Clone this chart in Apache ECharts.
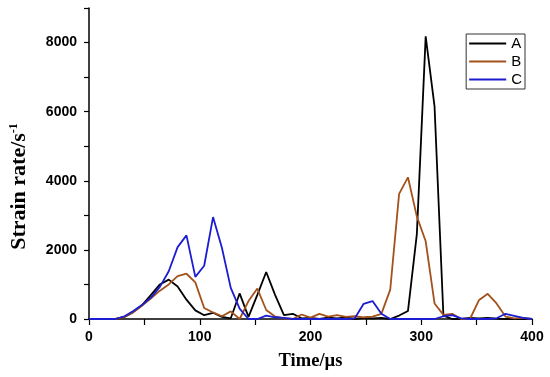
<!DOCTYPE html>
<html>
<head>
<meta charset="utf-8">
<script src="https://cdn.jsdelivr.net/npm/echarts@6/dist/echarts.min.js"></script>
<style>
html,body{margin:0;padding:0;background:#fff;}
#chart{width:550px;height:377px;}
</style>
</head>
<body>
<div id="chart"></div>
<script>
// Time axis (µs)
var times = [0,8,16,24,32,40,48,56,64,72,80,88,96,104,112,120,128,136,144,152,160,168,176,184,192,200,208,216,224,232,240,248,256,264,272,280,288,296,304,312,320,328,336,344,352,360,368,376,384,392,400];
// Strain rate (1/s)
var seriesA = [0,0,0,0,60,200,400,700,1000,1140,940,560,250,110,180,60,20,740,60,700,1360,700,110,150,20,30,0,40,20,50,0,30,20,30,0,100,230,2450,8180,6150,100,0,0,30,20,30,10,0,0,0,0];
var seriesB = [0,0,0,0,60,200,390,600,820,1000,1240,1310,1060,320,190,80,220,0,520,880,260,70,20,0,130,40,150,70,110,60,80,50,70,150,850,3620,4100,2970,2250,450,120,150,0,0,540,730,450,70,20,30,0];
var seriesC = [0,0,0,0,80,230,410,620,930,1380,2080,2420,1220,1540,2950,2060,900,300,0,0,100,50,30,0,0,0,0,0,0,0,20,440,520,150,0,0,0,0,0,0,80,110,20,0,0,0,20,150,90,30,0];
var xTicks = [0,100,200,300,400];
var yTicks = [0,2000,4000,6000,8000];

function pairs(vals){ return times.map(function(t,i){ return [t, vals[i]]; }); }

var chart = echarts.init(document.getElementById('chart'), null, {renderer:'canvas'});
var labelFont = {fontFamily:'Arial, "Liberation Sans", sans-serif', fontWeight:'bold', fontSize:14, color:'#000'};
var titleFont = '"Times New Roman", "Liberation Serif", serif';
chart.setOption({
  animation:false,
  backgroundColor:'#fff',
  grid:{left:88, right:18, top:8, bottom:58, containLabel:false},
  legend:{
    data:['A','B','C'], orient:'vertical', right:25, top:34,
    icon:'rect', itemWidth:37, itemHeight:2, itemGap:3,
    padding:[2,3,2,3], borderColor:'#333', borderWidth:1, borderRadius:0,
    textStyle:{fontFamily:'Arial, "Liberation Sans", sans-serif', fontSize:15, color:'#000'}
  },
  xAxis:{
    type:'value', min:0, max:400, interval:100,
    name:'Time/µs', nameLocation:'middle', nameGap:33,
    nameTextStyle:{fontFamily:titleFont, fontWeight:'bold', fontSize:18.5, color:'#000'},
    axisLine:{lineStyle:{color:'#000', width:1.5}},
    axisTick:{inside:false, length:6, lineStyle:{color:'#000', width:1.2}},
    minorTick:{show:true, splitNumber:2, length:6, lineStyle:{color:'#000', width:1.2}},
    splitLine:{show:false},
    axisLabel:Object.assign({margin:11, formatter:function(v){return xTicks.indexOf(v)>=0?String(v):'';}}, labelFont)
  },
  yAxis:{
    type:'value', min:0, max:9000, interval:2000,
    name:'{a|Strain rate/s}{b|-1}', nameLocation:'middle', nameGap:58, nameRotate:90,
    nameTextStyle:{padding:[0,46,0,0], rich:{
      a:{fontFamily:titleFont, fontWeight:'bold', fontSize:22, color:'#000'},
      b:{fontFamily:titleFont, fontWeight:'bold', fontSize:12, color:'#000', verticalAlign:'top', padding:[0,0,11,0]}
    }},
    axisLine:{lineStyle:{color:'#000', width:1.5}},
    axisTick:{inside:false, length:5, lineStyle:{color:'#000', width:1.2}},
    minorTick:{show:true, splitNumber:2, length:5, lineStyle:{color:'#000', width:1.2}},
    splitLine:{show:false},
    axisLabel:Object.assign({margin:12, showMaxLabel:false, formatter:function(v){return yTicks.indexOf(v)>=0?String(v):'';}}, labelFont)
  },
  series:[
    {name:'A', type:'line', data:pairs(seriesA), symbol:'none', color:'#000000', lineStyle:{width:1.8, color:'#000000'}},
    {name:'B', type:'line', data:pairs(seriesB), symbol:'none', color:'#a3521c', lineStyle:{width:1.8, color:'#a3521c'}},
    {name:'C', type:'line', data:pairs(seriesC), symbol:'none', color:'#1c1cd0', lineStyle:{width:1.8, color:'#1c1cd0'}}
  ]
});
</script>
</body>
</html>
